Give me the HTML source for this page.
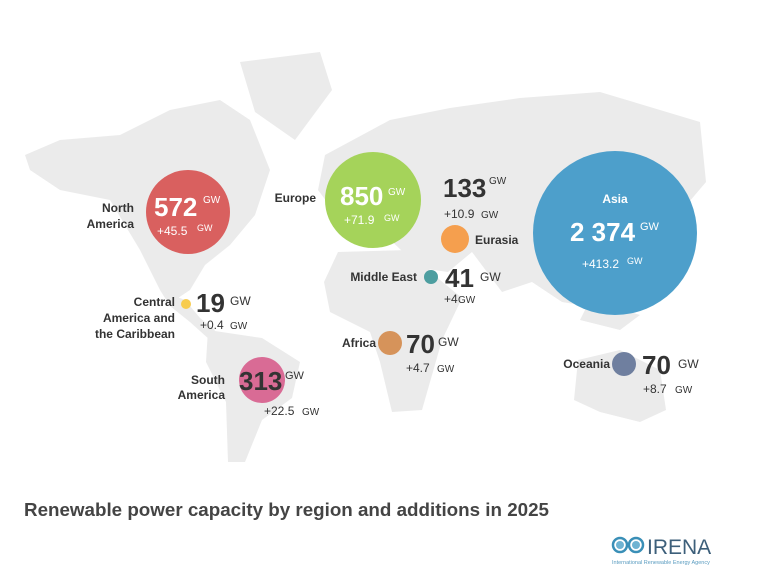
<!DOCTYPE html>
<html><head><meta charset="utf-8"><style>
body{margin:0;width:760px;height:580px;background:#fff;overflow:hidden;font-family:"Liberation Sans",sans-serif}
svg{position:absolute;left:0;top:0}
</style></head><body>
<svg width="760" height="580" viewBox="0 0 760 580">
<g fill="#ebebeb">
<polygon points="25,155 60,140 120,135 170,110 220,100 250,120 270,170 255,215 230,245 205,265 190,290 175,300 160,290 140,250 110,200 60,190 30,170"/>
<polygon points="240,62 320,52 332,90 295,140 255,112"/>
<polygon points="160,290 185,300 200,318 215,330 210,340 190,322 170,306"/>
<polygon points="208,330 262,338 300,362 292,398 262,420 245,462 228,462 226,402 206,362"/>
<polygon points="325,155 390,120 450,108 520,98 600,92 700,122 706,182 672,222 652,282 622,312 562,302 532,282 502,292 472,252 448,272 420,268 382,232 342,222 318,190"/>
<polygon points="338,252 410,250 440,280 462,298 442,340 422,410 392,412 380,362 370,332 330,312 324,282"/>
<polygon points="578,360 620,350 660,370 666,410 640,422 600,412 574,400"/>
<polygon points="590,300 640,315 620,330 580,320"/>
</g>
<g>
<circle cx="188" cy="212" r="42" fill="#d9605f"/>
<circle cx="373" cy="200" r="48" fill="#a5d35a"/>
<circle cx="455" cy="239" r="14" fill="#f59f4e"/>
<circle cx="431" cy="277" r="7" fill="#4d9ea0"/>
<circle cx="615" cy="233" r="82" fill="#4d9fcb"/>
<circle cx="186" cy="304" r="5" fill="#f7cc4f"/>
<circle cx="390" cy="343" r="12" fill="#d6935a"/>
<circle cx="262" cy="380" r="23" fill="#d96b95"/>
<circle cx="624" cy="364" r="12" fill="#6f7f9f"/>
</g>
<g font-family="Liberation Sans, sans-serif" fill="#333">
<text x="134" y="212" font-size="12" font-weight="bold" text-anchor="end">North</text>
<text x="134" y="228" font-size="12" font-weight="bold" text-anchor="end">America</text>
<text x="154" y="216" font-size="26" font-weight="bold" fill="#fff">572</text>
<text x="203" y="203" font-size="10" fill="#fff">GW</text>
<text x="157" y="235" font-size="12" fill="#fff">+45.5</text>
<text x="197" y="231" font-size="9" fill="#fff">GW</text>

<text x="316" y="202" font-size="12" font-weight="bold" text-anchor="end">Europe</text>
<text x="340" y="205" font-size="26" font-weight="bold" fill="#fff">850</text>
<text x="388" y="195" font-size="10" fill="#fff">GW</text>
<text x="344" y="224" font-size="12" fill="#fff">+71.9</text>
<text x="384" y="221" font-size="9" fill="#fff">GW</text>

<text x="443" y="197" font-size="26" font-weight="bold">133</text>
<text x="489" y="184" font-size="10">GW</text>
<text x="444" y="218" font-size="12">+10.9</text>
<text x="481" y="218" font-size="10">GW</text>
<text x="475" y="244" font-size="12" font-weight="bold">Eurasia</text>

<text x="417" y="281" font-size="12" font-weight="bold" text-anchor="end">Middle East</text>
<text x="445" y="287" font-size="26" font-weight="bold">41</text>
<text x="480" y="281" font-size="12">GW</text>
<text x="444" y="303" font-size="12">+4</text>
<text x="458" y="303" font-size="10">GW</text>

<text x="615" y="203" font-size="12" font-weight="bold" fill="#fff" text-anchor="middle">Asia</text>
<text x="570" y="241" font-size="26" font-weight="bold" fill="#fff">2 374</text>
<text x="640" y="230" font-size="11" fill="#fff">GW</text>
<text x="582" y="268" font-size="12" fill="#fff">+413.2</text>
<text x="627" y="264" font-size="9" fill="#fff">GW</text>

<text x="175" y="306" font-size="12" font-weight="bold" text-anchor="end">Central</text>
<text x="175" y="322" font-size="12" font-weight="bold" text-anchor="end">America and</text>
<text x="175" y="338" font-size="12" font-weight="bold" text-anchor="end">the Caribbean</text>
<text x="196" y="312" font-size="26" font-weight="bold">19</text>
<text x="230" y="305" font-size="12">GW</text>
<text x="200" y="329" font-size="12">+0.4</text>
<text x="230" y="329" font-size="10">GW</text>

<text x="376" y="347" font-size="12" font-weight="bold" text-anchor="end">Africa</text>
<text x="406" y="353" font-size="26" font-weight="bold">70</text>
<text x="438" y="346" font-size="12">GW</text>
<text x="406" y="372" font-size="12">+4.7</text>
<text x="437" y="372" font-size="10">GW</text>

<text x="225" y="384" font-size="12" font-weight="bold" text-anchor="end">South</text>
<text x="225" y="399" font-size="12" font-weight="bold" text-anchor="end">America</text>
<text x="239" y="390" font-size="26" font-weight="bold">313</text>
<text x="285" y="379" font-size="11">GW</text>
<text x="264" y="415" font-size="12">+22.5</text>
<text x="302" y="415" font-size="10">GW</text>

<text x="610" y="368" font-size="12" font-weight="bold" text-anchor="end">Oceania</text>
<text x="642" y="374" font-size="26" font-weight="bold">70</text>
<text x="678" y="368" font-size="12">GW</text>
<text x="643" y="393" font-size="12">+8.7</text>
<text x="675" y="393" font-size="10">GW</text>

<text x="24" y="516" font-size="18.8" font-weight="bold" fill="#444">Renewable power capacity by region and additions in 2025</text>
</g>
<g transform="translate(612,537)">
<circle cx="8" cy="8" r="7" fill="none" stroke="#3a8fb7" stroke-width="2.5"/>
<circle cx="24" cy="8" r="7" fill="none" stroke="#3a8fb7" stroke-width="2.5"/>
<circle cx="8" cy="8" r="4" fill="#6fb3d2"/>
<circle cx="24" cy="8" r="4" fill="#6fb3d2"/>
<text x="35" y="17" font-family="Liberation Sans, sans-serif" font-size="21" fill="#3d5f7a">IRENA</text>
<text x="0" y="27" font-family="Liberation Sans, sans-serif" font-size="5.5" fill="#5a9cc0">International Renewable Energy Agency</text>
</g>
</svg>
</body></html>
